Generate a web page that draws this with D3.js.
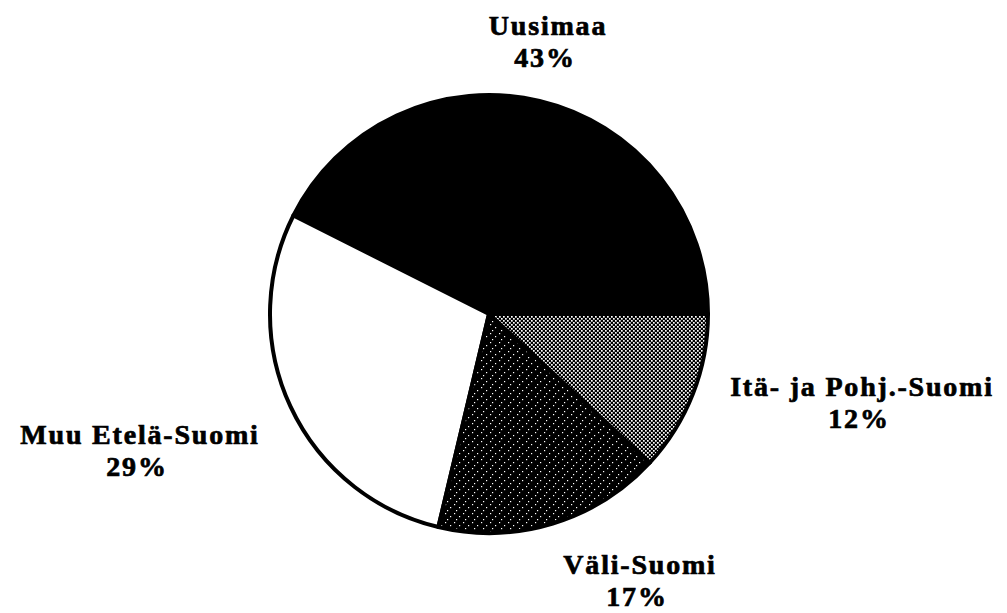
<!DOCTYPE html>
<html>
<head>
<meta charset="utf-8">
<script src="https://cdn.jsdelivr.net/npm/d3@7"></script>
<style>
  body { margin: 0; background: #fff; }
  text { font-family: "Liberation Serif", "Times New Roman", serif; font-weight: bold; fill: #000; }
</style>
</head>
<body>
<div id="pie-chart"></div>
<script>
// regions, counter-clockwise from 3 o'clock
const regions = ["Uusimaa", "Muu Etelä-Suomi", "Väli-Suomi", "Itä- ja Pohj.-Suomi"];
const shares = [43, 29, 17, 12];
const fills = ["#000", "#fff", "url(#dark-dots)", "url(#light-dots)"];
// label anchor points (centre x, first baseline y)
const labelPos = [[548, 35], [140, 444], [640, 574], [862, 396]];

const width = 1007, height = 613;
const cx = 489, cy = 314, radius = 219;

const svg = d3.select("#pie-chart").append("svg")
  .attr("width", width)
  .attr("height", height);

const defs = svg.append("defs");

// grey checker dots
const light = defs.append("pattern")
  .attr("id", "light-dots")
  .attr("patternUnits", "userSpaceOnUse")
  .attr("width", 4).attr("height", 4);
light.append("rect").attr("width", 4).attr("height", 4).attr("fill", "#000");
light.append("rect").attr("x", 0).attr("y", 0).attr("width", 1.7).attr("height", 1.7).attr("fill", "#fff");
light.append("rect").attr("x", 2).attr("y", 2).attr("width", 1.7).attr("height", 1.7).attr("fill", "#fff");

// dark, sparse white specks
const dark = defs.append("pattern")
  .attr("id", "dark-dots")
  .attr("patternUnits", "userSpaceOnUse")
  .attr("width", 9).attr("height", 9);
dark.append("rect").attr("width", 9).attr("height", 9).attr("fill", "#000");
[[1, 1], [6, 4], [3, 7]].forEach(function(p) {
  dark.append("rect").attr("x", p[0]).attr("y", p[1])
    .attr("width", 1.2).attr("height", 1.2).attr("fill", "#fff");
});

const pie = d3.pie()
  .sort(null)
  .value(function(d) { return d; })
  .startAngle(Math.PI / 2)
  .endAngle(Math.PI / 2 - 2 * Math.PI);

const arc = d3.arc().innerRadius(0).outerRadius(radius);

const g = svg.append("g")
  .attr("transform", "translate(" + cx + "," + cy + ")");

g.selectAll(".slice")
  .data(pie(shares))
  .enter()
  .append("path")
  .attr("class", "slice")
  .attr("d", arc)
  .attr("fill", function(d, i) { return fills[i]; })
  .attr("stroke", "#000")
  .attr("stroke-width", 4)
  .attr("stroke-linejoin", "round");

const labels = svg.selectAll(".label")
  .data(regions)
  .enter()
  .append("text")
  .attr("class", "label")
  .attr("text-anchor", "middle")
  .attr("font-size", 28)
  .attr("letter-spacing", 1.8)
  .attr("stroke", "#000")
  .attr("stroke-width", 0.7);

labels.append("tspan")
  .attr("x", function(d, i) { return labelPos[i][0]; })
  .attr("y", function(d, i) { return labelPos[i][1]; })
  .text(function(d) { return d; });

labels.append("tspan")
  .attr("x", function(d, i) { return labelPos[i][0] - 3; })
  .attr("dy", 31.5)
  .text(function(d, i) { return shares[i] + "%"; });
</script>
</body>
</html>
